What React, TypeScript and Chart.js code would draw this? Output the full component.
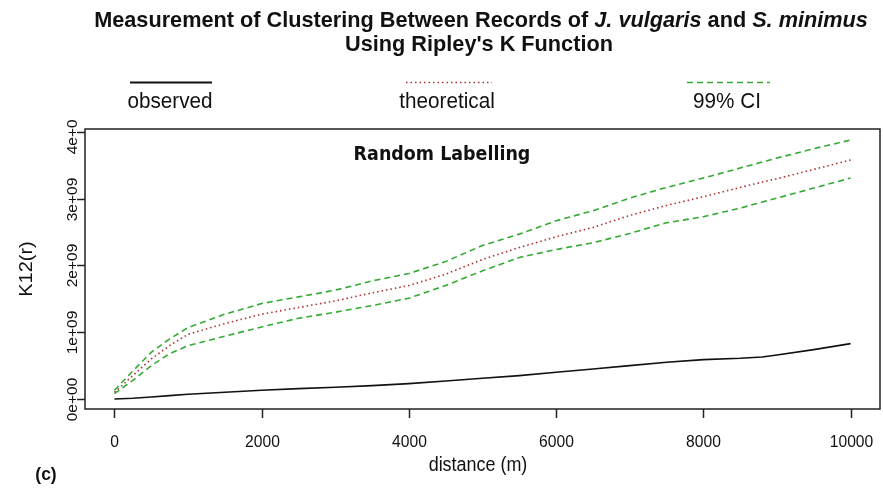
import React, { useEffect, useRef } from "react";
import { Chart, registerables } from "chart.js";

Chart.register(...registerables);

// distance r (m)
const DIST = [0, 250, 500, 750, 1000, 1500, 2000, 2500, 3000, 3500, 4000, 4500, 5000, 5500, 6000, 6500, 7000, 7500, 8000, 8500, 8800, 9000, 9500, 10000];
// K12(r) values in units of 1e9
const THEORETICAL = [0.10, 0.35, 0.60, 0.80, 0.97, 1.13, 1.27, 1.37, 1.47, 1.59, 1.70, 1.87, 2.09, 2.27, 2.43, 2.57, 2.75, 2.90, 3.03, 3.17, 3.25, 3.30, 3.44, 3.58];
const UPPER_CI = [0.13, 0.42, 0.70, 0.90, 1.07, 1.27, 1.43, 1.53, 1.63, 1.77, 1.88, 2.06, 2.30, 2.47, 2.67, 2.82, 3.01, 3.17, 3.31, 3.46, 3.55, 3.61, 3.75, 3.88];
const LOWER_CI = [0.08, 0.28, 0.50, 0.68, 0.80, 0.94, 1.08, 1.21, 1.30, 1.40, 1.51, 1.70, 1.92, 2.12, 2.24, 2.34, 2.48, 2.64, 2.73, 2.86, 2.95, 3.01, 3.16, 3.31];
const OBSERVED = [0, 0.01, 0.03, 0.05, 0.07, 0.10, 0.13, 0.155, 0.175, 0.20, 0.23, 0.27, 0.31, 0.35, 0.40, 0.45, 0.50, 0.55, 0.59, 0.61, 0.63, 0.66, 0.74, 0.83];
const UNIT = 1e9;

const X_TICKS = [0, 2000, 4000, 6000, 8000, 10000];
const Y_TICKS = [0, 1, 2, 3, 4];
const Y_TICK_LABELS = ["0e+00", "1e+09", "2e+09", "3e+09", "4e+09"];

const LEGEND = ["observed", "theoretical", "99% CI"];
const TITLE_1: [string, boolean][] = [
  ["Measurement of Clustering Between Records of ", false],
  ["J. vulgaris", true],
  [" and ", false],
  ["S. minimus", true],
];
const TITLE_2 = "Using Ripley's K Function";
const SUBTITLE = "Random Labelling";
const X_TITLE = "distance (m)";
const Y_TITLE = "K12(r)";
const PANEL = "(c)";

const FONT = "'Liberation Sans', Arial, sans-serif";
const SX = 0.92;

function txt(ctx: CanvasRenderingContext2D, s: string, x: number, y: number, font: string, align: CanvasTextAlign = "center", rot = 0, color = "#111", sx = SX) {
  ctx.save();
  ctx.font = font;
  ctx.fillStyle = color;
  ctx.textAlign = align;
  ctx.textBaseline = "middle";
  ctx.translate(x, y);
  if (rot) {
    ctx.rotate(rot);
    ctx.scale(1, sx);
  } else {
    ctx.scale(sx, 1);
  }
  ctx.fillText(s, 0, 0);
  ctx.restore();
}

const decorPlugin = {
  id: "decor",
  afterDraw(chart: any) {
    const ctx: CanvasRenderingContext2D = chart.ctx;
    const { left, right, top, bottom } = chart.chartArea;
    const xs = chart.scales.x;
    const ys = chart.scales.y;
    ctx.save();
    // box
    ctx.strokeStyle = "#222";
    ctx.lineWidth = 1.5;
    ctx.strokeRect(left, top, right - left, bottom - top);
    // x ticks
    ctx.lineWidth = 1.5;
    X_TICKS.forEach((v) => {
      const px = Math.round(xs.getPixelForValue(v)) + 0.5;
      ctx.beginPath();
      ctx.moveTo(px, bottom);
      ctx.lineTo(px, bottom + 9);
      ctx.stroke();
      txt(ctx, String(v), px, 442, `17px ${FONT}`);
    });
    // y ticks
    ctx.save();
    ctx.beginPath();
    ctx.rect(0, 119, chart.width, chart.height);
    ctx.clip();
    Y_TICKS.forEach((v, i) => {
      const py = Math.round(ys.getPixelForValue(v * UNIT)) + 0.5;
      ctx.beginPath();
      ctx.moveTo(left - 8, py);
      ctx.lineTo(left, py);
      ctx.stroke();
      txt(ctx, Y_TICK_LABELS[i], 73, py, `15.5px ${FONT}`, "center", -Math.PI / 2);
    });
    ctx.restore();
    // axis titles
    txt(ctx, X_TITLE, 478, 466, `19.5px ${FONT}`);
    txt(ctx, Y_TITLE, 27, (top + bottom) / 2, `20px ${FONT}`, "center", -Math.PI / 2);
    // panel label
    txt(ctx, PANEL, 46, 475, `bold 19px ${FONT}`);
    // subtitle inside plot
    txt(ctx, SUBTITLE, 442, 155, `bold 19px 'DejaVu Sans', ${FONT}`);
    // title line 1 (mixed italic)
    const f = (it: boolean) => `${it ? "italic " : ""}bold 21.7px ${FONT}`;
    let total = 0;
    TITLE_1.forEach(([s, it]) => {
      ctx.font = f(it);
      total += ctx.measureText(s).width;
    });
    let cx = 481 - total / 2;
    TITLE_1.forEach(([s, it]) => {
      ctx.font = f(it);
      const w = ctx.measureText(s).width;
      txt(ctx, s, cx, 21, f(it), "left", 0, "#111", 1);
      cx += w;
    });
    txt(ctx, TITLE_2, 479, 45, `bold 21.7px ${FONT}`, "center", 0, "#111", 1);
    // legend
    const legCols = [
      { cx: 170, line: [130, 212], color: "#111", dash: [] as number[], width: 1.8 },
      { cx: 447, line: [406, 492], color: "#b03030", dash: [1.5, 3], width: 1.6 },
      { cx: 727, line: [687, 770], color: "#33aa33", dash: [6, 4], width: 1.6 },
    ];
    legCols.forEach((c, i) => {
      ctx.save();
      ctx.strokeStyle = c.color;
      ctx.lineWidth = c.width;
      ctx.setLineDash(c.dash);
      ctx.beginPath();
      ctx.moveTo(c.line[0], 82.5);
      ctx.lineTo(c.line[1], 82.5);
      ctx.stroke();
      ctx.restore();
      txt(ctx, LEGEND[i], c.cx, 102, `22.5px ${FONT}`);
    });
    ctx.restore();
  },
};

export default function App() {
  const ref = useRef<HTMLCanvasElement | null>(null);
  useEffect(() => {
    if (!ref.current) return;
    const mk = (arr: number[]) => DIST.map((d, i) => ({ x: d, y: arr[i] * UNIT }));
    const chart = new Chart(ref.current, {
      type: "line",
      data: {
        datasets: [
          { label: "upper", data: mk(UPPER_CI), borderColor: "#33aa33", borderWidth: 1.6, borderDash: [6, 4], pointRadius: 0, tension: 0 },
          { label: "lower", data: mk(LOWER_CI), borderColor: "#33aa33", borderWidth: 1.6, borderDash: [6, 4], pointRadius: 0, tension: 0 },
          { label: "theoretical", data: mk(THEORETICAL), borderColor: "#b03030", borderWidth: 1.6, borderDash: [1.5, 3], pointRadius: 0, tension: 0 },
          { label: "observed", data: mk(OBSERVED), borderColor: "#111", borderWidth: 1.6, pointRadius: 0, tension: 0 },
        ],
      },
      options: {
        animation: false,
        responsive: false,
        devicePixelRatio: 1,
        layout: { padding: { left: 85, right: 3, top: 129, bottom: 79 } },
        plugins: { legend: { display: false }, title: { display: false }, tooltip: { enabled: false } },
        events: [],
        scales: {
          x: { type: "linear", min: -400, max: 10400, display: false },
          y: { type: "linear", min: -0.15 * UNIT, max: 4.045 * UNIT, display: false },
        },
      },
      plugins: [decorPlugin],
    });
    return () => chart.destroy();
  }, []);
  return (
    <div style={{ position: "absolute", left: 0, top: 0, width: 883, height: 488, background: "#fff" }}>
      <canvas ref={ref} width={883} height={488} style={{ display: "block" }} />
    </div>
  );
}
